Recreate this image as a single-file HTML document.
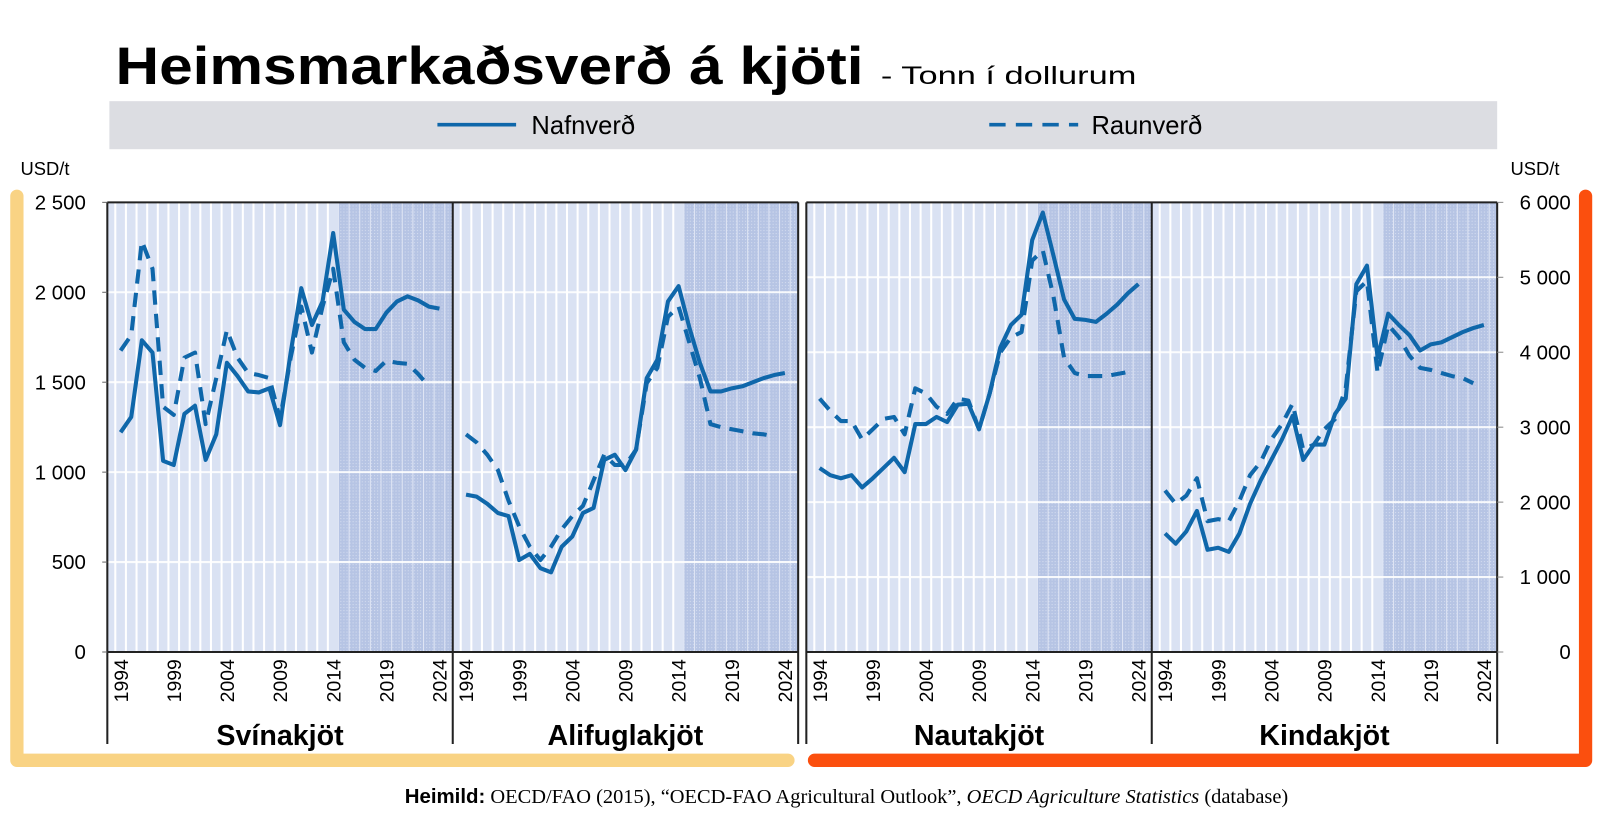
<!DOCTYPE html>
<html><head><meta charset="utf-8"><style>html,body{margin:0;padding:0;background:#fff}svg{display:block}</style></head>
<body>
<svg id="s" xmlns="http://www.w3.org/2000/svg" width="1600" height="829" viewBox="0 0 1565.6 811.2" font-family="Liberation Sans, Arial, sans-serif">
<defs>
<pattern id="dots" width="3" height="3" patternUnits="userSpaceOnUse"><rect width="3" height="3" fill="#b6c4e4"/><rect width="1" height="1" fill="#d6def0"/></pattern>
</defs>
<text x="113" y="82" font-size="52" font-weight="bold" textLength="732" lengthAdjust="spacingAndGlyphs">Heimsmarkaðsverð á kjöti</text>
<text x="862" y="82" font-size="24" textLength="250" lengthAdjust="spacingAndGlyphs">- Tonn í dollurum</text>
<rect x="107" y="99" width="1358" height="47" fill="#dcdde2"/>
<line x1="428" y1="122" x2="505" y2="122" stroke="#0f67aa" stroke-width="3.5"/>
<text x="520" y="131" font-size="25">Nafnverð</text>
<line x1="968" y1="122" x2="1055" y2="122" stroke="#0f67aa" stroke-width="3.5" stroke-dasharray="16 10"/>
<text x="1068" y="131" font-size="25">Raunverð</text>
<text x="20" y="171" font-size="18">USD/t</text>
<text x="1478" y="171" font-size="18">USD/t</text>
<path d="M16.5,192 V744 H771" fill="none" stroke="#f9d384" stroke-width="13" stroke-linecap="round" stroke-linejoin="round"/>
<path d="M797,744 H1551.5 V192" fill="none" stroke="#fb4f0e" stroke-width="13" stroke-linecap="round" stroke-linejoin="round"/>
<text x="396" y="786" font-size="20"><tspan font-weight="bold">Heimild:</tspan><tspan font-family="Liberation Serif, serif"> OECD/FAO (2015), “OECD-FAO Agricultural Outlook”, <tspan font-style="italic">OECD Agriculture Statistics</tspan> (database)</tspan></text>
<g id="g"></g>
</svg>
<script>
(function(){
const NS="http://www.w3.org/2000/svg",g=document.getElementById('g');
function el(t,a,txt){const e=document.createElementNS(NS,t);for(const k in a)e.setAttribute(k,a[k]);if(txt!=null)e.textContent=txt;g.appendChild(e);return e;}
const T=198,B=638,step=10.4;
const panels=[
{l:105,name:"Svínakjöt",
s:[423,408,333,345,451,455,405,397,450,425,355,368,383,384,380,416,345,282,318,295,228,303,315,322,322,306,295,290,294,300,302],
d:[343,328,236,263,398,406,350,345,415,370,323,350,365,367,370,410,350,300,345,300,263,335,352,360,363,353,355,356,366,378]},
{l:443,name:"Alifuglakjöt",
s:[484,486,493,502,505,548,542,556,560,535,525,502,497,450,445,460,440,370,352,295,280,320,355,383,383,380,378,374,370,367,365],
d:[425,433,445,460,490,515,535,548,535,518,505,495,470,445,455,455,440,375,360,310,300,335,370,415,418,420,422,424,425,427]},
{l:789,name:"Nautakjöt",
s:[458,465,468,465,477,468,458,448,462,415,415,408,413,396,395,420,385,340,318,308,235,208,250,293,312,313,315,307,298,287,278],
d:[390,402,412,412,430,420,410,408,425,380,385,398,405,390,392,420,385,345,330,325,255,245,290,350,365,368,368,368,366,364]},
{l:1127,name:"Kindakjöt",
s:[522,532,520,500,538,536,540,522,493,470,450,430,407,450,435,435,405,390,278,260,350,307,318,328,343,337,335,330,325,321,318],
d:[480,493,485,468,510,508,510,490,465,452,430,415,395,440,435,420,410,380,285,275,365,318,330,348,360,362,365,368,370,375]}];
panels.forEach((p,pi)=>{
 const L=p.l,R=L+338,right=pi>=2;
 el('rect',{x:L,y:T,width:338,height:B-T,fill:'#dae2f3'});
 const sx=L+13+20.5*step;
 el('rect',{x:sx,y:T,width:R-sx,height:B-T,fill:'url(#dots)'});
 for(let i=0;i<33;i++){const x=L+13+(i-0.5)*step;if(x>L&&x<R)el('line',{x1:x,y1:T,x2:x,y2:B,stroke:x<sx?'#fff':'#dfe5f4','stroke-width':x<sx?2:1});}
 const n=right?6:5;
 for(let k=1;k<n;k++){const y=B-(B-T)*k/n;el('line',{x1:L,y1:y,x2:R,y2:y,stroke:'#fff','stroke-width':2,opacity:0.9});}
 const pts=a=>a.map((v,i)=>(L+13+i*step).toFixed(1)+','+v).join(' ');
 el('polyline',{points:pts(p.d),fill:'none',stroke:'#0f67aa','stroke-width':4,'stroke-dasharray':'14 9','stroke-linejoin':'round'});
 el('polyline',{points:pts(p.s),fill:'none',stroke:'#0f67aa','stroke-width':4,'stroke-linejoin':'round'});
 for(let y=1994;y<=2024;y+=5){const x=L+13+(y-1994)*step+7;el('text',{x:0,y:0,'font-size':19,'text-anchor':'end',transform:'translate('+x+','+(B+7)+') rotate(-90)'},String(y));}
 el('text',{x:L+169,y:729,'font-size':28,'font-weight':'bold','text-anchor':'middle'},p.name);
});
[[105,781],[789,1465]].forEach(([a,b])=>{
 el('line',{x1:a,y1:T,x2:b,y2:T,stroke:'#222','stroke-width':2});
 el('line',{x1:a,y1:B,x2:b,y2:B,stroke:'#222','stroke-width':2});
 el('line',{x1:a,y1:T,x2:a,y2:728,stroke:'#222','stroke-width':2});
 el('line',{x1:b,y1:T,x2:b,y2:728,stroke:'#222','stroke-width':2});
 el('line',{x1:(a+b)/2,y1:T,x2:(a+b)/2,y2:728,stroke:'#222','stroke-width':2});
});
['0','500','1 000','1 500','2 000','2 500'].forEach((t,k)=>{const y=B-(B-T)*k/5;el('text',{x:84,y:y+7,'font-size':20,'text-anchor':'end'},t);el('line',{x1:100,y1:y,x2:105,y2:y,stroke:'#666'});});
['0','1 000','2 000','3 000','4 000','5 000','6 000'].forEach((t,k)=>{const y=B-(B-T)*k/6;el('text',{x:1537,y:y+7,'font-size':20,'text-anchor':'end'},t);el('line',{x1:1465,y1:y,x2:1471,y2:y,stroke:'#888'});});
})();
</script>
</body></html>
